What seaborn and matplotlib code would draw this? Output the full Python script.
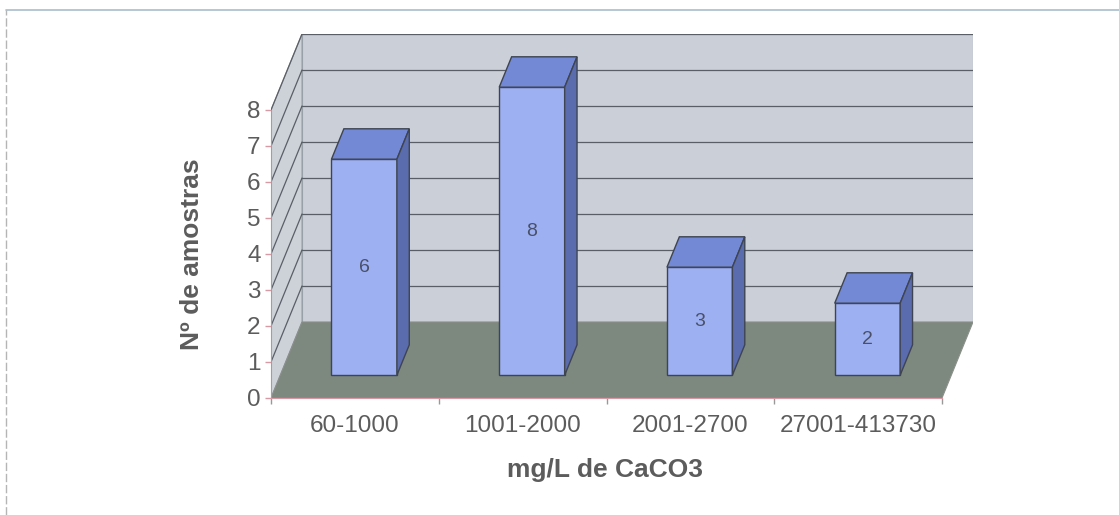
import numpy as np
import pandas as pd
import matplotlib
matplotlib.use("Agg")
import matplotlib.pyplot as plt
from matplotlib.patches import Polygon
from matplotlib.lines import Line2D
import seaborn as sns

# Sample counts per CaCO3 concentration class
categories = ["60-1000", "1001-2000", "2001-2700", "27001-413730"]
counts = [6, 8, 3, 2]
y_ticks = [0, 1, 2, 3, 4, 5, 6, 7, 8]

sns.set_style("white")
plt.rcParams["font.family"] = ["Liberation Sans", "DejaVu Sans"]

TEXT = "#5c5c5c"
FRONT = "#9cb0f2"
TOP = "#7489d6"
SIDE = "#5a6cae"
EDGE = "#3e4450"
WALL = "#cbd0d8"
SIDEWALL = "#cdd2d9"
FLOOR = "#7d887e"
GRID = "#5a5e66"
AXIS = "#d79aa4"

fig = plt.figure(figsize=(11.19, 5.15), dpi=100)
W, H = 1119, 515

# plot box in pixels: front plane x 271..942, back wall reaches 973; y front 0 at 398
px_left, px_right_front, px_right_back = 271, 942, 973
px_zero, px_top = 398, 34
ax = fig.add_axes([px_left / W, (H - px_zero) / H,
                   (px_right_back - px_left) / W, (px_zero - px_top) / H])

unit_x = (px_right_front - px_left) / 4.0
DX = (px_right_back - px_right_front) / unit_x      # depth shift along x (data units)
DY = 76 / 36.0                                      # depth shift along y (data units)
YMAX = 8

df = pd.DataFrame({"classe": categories, "amostras": counts})
sns.barplot(data=df, x="classe", y="amostras", color=FRONT, saturation=1,
            width=0.39, edgecolor=EDGE, linewidth=1.0, ax=ax, zorder=3)
bars = list(ax.patches)

ax.set_xlim(-0.5, 3.5 + DX)
ax.set_ylim(0, YMAX + DY)

# walls and floor of the 3-D box
x0, x1 = -0.5, 3.5
floor = Polygon([(x0, 0), (x1, 0), (x1 + DX, DY), (x0 + DX, DY)],
                closed=True, facecolor=FLOOR, edgecolor="#8a8f8a", lw=0.8, zorder=0.5)
back = Polygon([(x0 + DX, DY), (x1 + DX, DY), (x1 + DX, YMAX + DY), (x0 + DX, YMAX + DY)],
               closed=True, facecolor=WALL, edgecolor="#9aa0a8", lw=0.8, zorder=0.4)
left = Polygon([(x0, 0), (x0 + DX, DY), (x0 + DX, YMAX + DY), (x0, YMAX)],
               closed=True, facecolor=SIDEWALL, edgecolor="#9aa0a8", lw=0.8, zorder=0.45)
for p in (back, left, floor):
    ax.add_patch(p)
for k in y_ticks[1:]:
    ax.plot([x0 + DX, x1 + DX], [DY + k, DY + k], color=GRID, lw=0.9, zorder=0.6)
    ax.plot([x0, x0 + DX], [k, DY + k], color=GRID, lw=0.9, zorder=0.6)

# bars stand in the middle of the depth: shift front faces, add top and side faces
f0, fd = 0.3, 0.4
for patch, val in zip(bars, counts):
    patch.set_x(patch.get_x() + f0 * DX)
    patch.set_y(patch.get_y() + f0 * DY)
    bx0 = patch.get_x()
    bx1 = bx0 + patch.get_width()
    by0 = patch.get_y()
    by1 = by0 + patch.get_height()
    ddx, ddy = fd * DX, fd * DY
    ax.add_patch(Polygon([(bx0, by1), (bx1, by1), (bx1 + ddx, by1 + ddy), (bx0 + ddx, by1 + ddy)],
                         closed=True, facecolor=TOP, edgecolor=EDGE, lw=1.0, zorder=3))
    ax.add_patch(Polygon([(bx1, by0), (bx1 + ddx, by0 + ddy), (bx1 + ddx, by1 + ddy), (bx1, by1)],
                         closed=True, facecolor=SIDE, edgecolor=EDGE, lw=1.0, zorder=3))
    ax.text((bx0 + bx1) / 2, (by0 + by1) / 2, str(val), ha="center", va="center",
            fontsize=14, color="#4a5068", zorder=4)

# axes styling
for s in ("top", "right"):
    ax.spines[s].set_visible(False)
ax.spines["left"].set_bounds(0, YMAX)
ax.spines["left"].set_color("#9aa0a8")
ax.spines["bottom"].set_bounds(x0, x1)
ax.spines["bottom"].set_color(AXIS)

ax.set_yticks(y_ticks)
ax.set_yticklabels([str(t) for t in y_ticks])
ax.set_xticks(range(len(categories)))
ax.set_xticklabels(categories)
ax.set_xticks(np.arange(-0.5, len(categories), 1.0), minor=True)
ax.tick_params(axis="y", which="major", length=4.5, width=1, color=AXIS,
               labelsize=17.5, labelcolor=TEXT, pad=3, left=True)
ax.tick_params(axis="x", which="major", length=0, labelsize=17.5, labelcolor=TEXT, pad=12)
ax.tick_params(axis="x", which="minor", length=4, width=1, color="#999999", bottom=True)

ax.set_ylabel("Nº de amostras", fontsize=19, fontweight="bold", color=TEXT)
ax.yaxis.label.set_va("center")
ax.yaxis.set_label_coords((192 - px_left) / (px_right_back - px_left),
                          (px_zero - 254) / (px_zero - px_top))
ax.set_xlabel("mg/L de CaCO3", fontsize=19, fontweight="bold", color=TEXT)
ax.xaxis.label.set_va("center")
ax.xaxis.set_label_coords((605 - px_left) / (px_right_back - px_left),
                          (px_zero - 470) / (px_zero - px_top))

# outer frame lines of the chart area
fig.add_artist(Line2D([6 / W, 1.0], [1 - 10 / H, 1 - 10 / H], color="#a9bccb", lw=1.2))
fig.add_artist(Line2D([6 / W, 6 / W], [0, 1 - 10 / H], color="#b5b5b5", lw=1.0,
                      linestyle=(0, (6, 2))))

fig.savefig("out.png", dpi=100)
